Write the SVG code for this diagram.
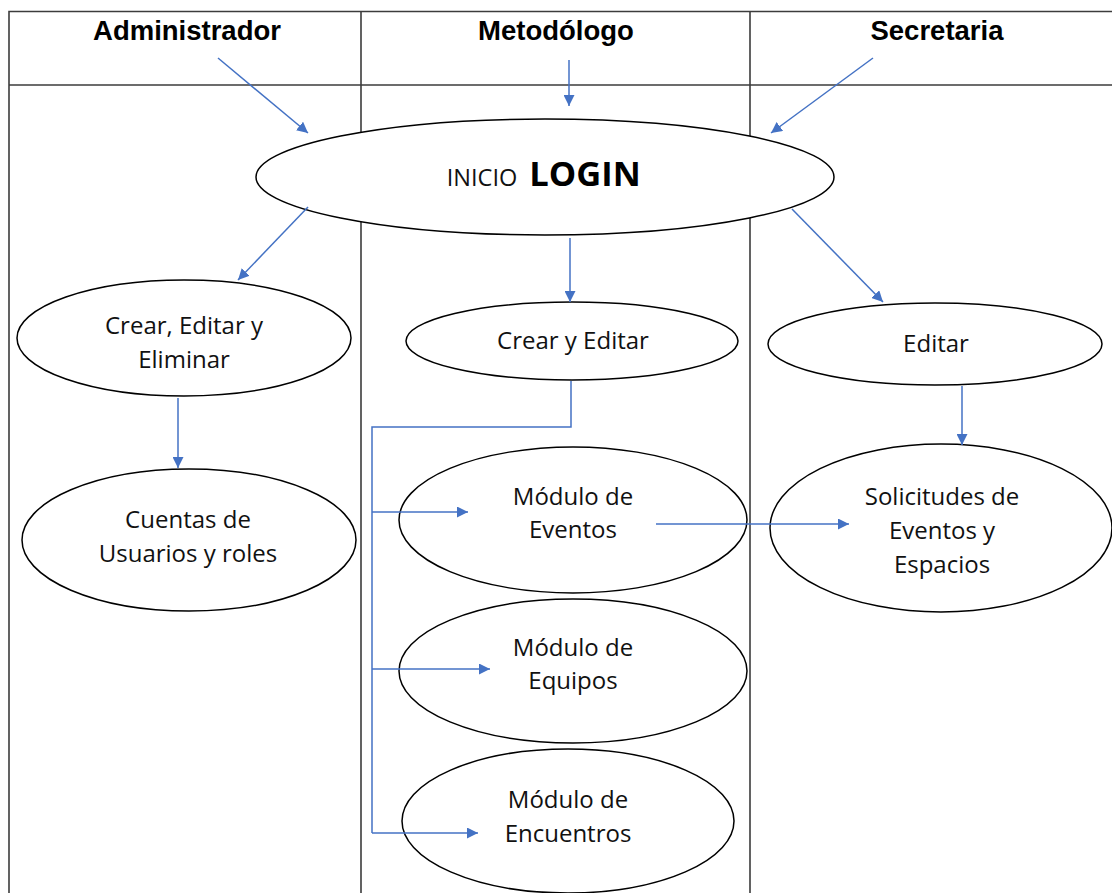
<svg xmlns="http://www.w3.org/2000/svg" width="1112" height="893" viewBox="0 0 1112 893">
  <defs>
    <marker id="arrow" viewBox="0 0 10 10" refX="10" refY="5" markerWidth="11" markerHeight="11" markerUnits="userSpaceOnUse" orient="auto">
      <path d="M0,0 L10,5 L0,10 z" fill="#4472C4"/>
    </marker>
    <style>
      .grid { stroke: #3c3c3c; stroke-width: 1.6; fill: none; }
      .head { font-family: "Liberation Sans", Arial, sans-serif; font-weight: bold; font-size: 27.5px; fill: #000; text-anchor: middle; }
      .node ellipse { fill: #fff; stroke: #000; stroke-width: 1.5; }
      .lbl { font-family: "Open Sans", "Noto Sans", sans-serif; font-size: 24px; fill: #111; text-anchor: middle; }
      .conn { stroke: #4472C4; stroke-width: 1.5; fill: none; }
    </style>
  </defs>

  <rect width="1112" height="893" fill="#fff"/>

  <!-- swimlane table -->
  <g id="lanes">
    <path class="grid" d="M9,893 V11.5 H1112 M9,85 H1112 M361,11.5 V893 M750,11.5 V893"/>
    <text class="head" x="187" y="40">Administrador</text>
    <text class="head" x="556" y="40">Metodólogo</text>
    <text class="head" x="937" y="40">Secretaria</text>
  </g>

  <!-- nodes -->
  <g id="login" class="node">
    <ellipse cx="545" cy="177" rx="289" ry="58"/>
    <text x="482" y="186" font-family="Open Sans, Noto Sans, sans-serif" font-size="23.5" text-anchor="middle" fill="#111">INICIO</text>
    <text x="585" y="186" font-family="Open Sans, Noto Sans, sans-serif" font-size="34.5" font-weight="bold" text-anchor="middle" fill="#000">LOGIN</text>
  </g>

  <g id="admin-crud" class="node">
    <ellipse cx="184" cy="338" rx="167" ry="58"/>
    <text class="lbl" x="184" y="334">Crear, Editar y</text>
    <text class="lbl" x="184" y="368">Eliminar</text>
  </g>

  <g id="cuentas" class="node">
    <ellipse cx="189" cy="540" rx="167" ry="71"/>
    <text class="lbl" x="188" y="528">Cuentas de</text>
    <text class="lbl" x="188" y="562">Usuarios y roles</text>
  </g>

  <g id="metodo-crud" class="node">
    <ellipse cx="572" cy="341" rx="166" ry="39"/>
    <text class="lbl" x="573" y="349">Crear y Editar</text>
  </g>

  <g id="mod-eventos" class="node">
    <ellipse cx="573" cy="520" rx="174" ry="73"/>
    <text class="lbl" x="573" y="505">Módulo de</text>
    <text class="lbl" x="573" y="538">Eventos</text>
  </g>

  <g id="mod-equipos" class="node">
    <ellipse cx="573" cy="671" rx="174" ry="72"/>
    <text class="lbl" x="573" y="656">Módulo de</text>
    <text class="lbl" x="573" y="689">Equipos</text>
  </g>

  <g id="mod-encuentros" class="node">
    <ellipse cx="568" cy="821" rx="166" ry="72"/>
    <text class="lbl" x="568" y="808">Módulo de</text>
    <text class="lbl" x="568" y="842">Encuentros</text>
  </g>

  <g id="secre-editar" class="node">
    <ellipse cx="935" cy="344" rx="167" ry="41"/>
    <text class="lbl" x="936" y="352">Editar</text>
  </g>

  <g id="solicitudes" class="node">
    <ellipse cx="941" cy="528" rx="171" ry="84"/>
    <text class="lbl" x="942" y="505">Solicitudes de</text>
    <text class="lbl" x="942" y="539">Eventos y</text>
    <text class="lbl" x="942" y="573">Espacios</text>
  </g>

  <!-- connectors -->
  <g id="connectors">
    <line class="conn" x1="218" y1="58" x2="308" y2="133" marker-end="url(#arrow)"/>
    <line class="conn" x1="569" y1="60" x2="569" y2="106" marker-end="url(#arrow)"/>
    <line class="conn" x1="873" y1="58" x2="771" y2="133" marker-end="url(#arrow)"/>

    <line class="conn" x1="308" y1="207" x2="238" y2="280" marker-end="url(#arrow)"/>
    <line class="conn" x1="570" y1="238" x2="570" y2="302" marker-end="url(#arrow)"/>
    <line class="conn" x1="792" y1="209" x2="883" y2="302" marker-end="url(#arrow)"/>

    <line class="conn" x1="178" y1="398" x2="178" y2="468" marker-end="url(#arrow)"/>
    <line class="conn" x1="962" y1="386" x2="962" y2="445" marker-end="url(#arrow)"/>

    <path class="conn" d="M571,381 V427 H372 V833"/>
    <line class="conn" x1="372" y1="512" x2="468" y2="512" marker-end="url(#arrow)"/>
    <line class="conn" x1="372" y1="669" x2="490" y2="669" marker-end="url(#arrow)"/>
    <line class="conn" x1="372" y1="833" x2="478" y2="833" marker-end="url(#arrow)"/>

    <line class="conn" x1="656" y1="524" x2="849" y2="524" marker-end="url(#arrow)"/>
  </g>
</svg>
